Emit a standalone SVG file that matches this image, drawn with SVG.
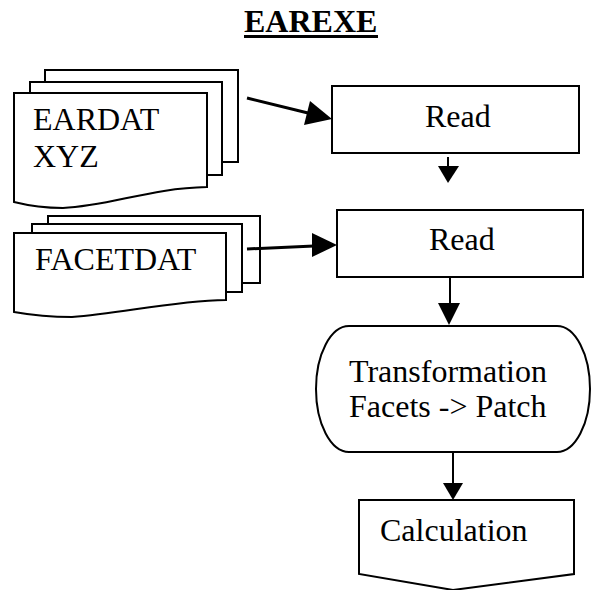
<svg xmlns="http://www.w3.org/2000/svg" width="592" height="590" viewBox="0 0 592 590">
  <style>
    .shape { fill: #ffffff; stroke: #000000; stroke-width: 2; stroke-linejoin: miter; }
    .label { font-family: "Liberation Serif", "Times New Roman", serif; font-size: 32px; fill: #000000; }
    .title { font-family: "Liberation Serif", "Times New Roman", serif; font-size: 32px; font-weight: bold; fill: #000000; }
    .wire { stroke: #000000; stroke-width: 3; fill: none; }
    .wire-thin { stroke: #000000; stroke-width: 2; fill: none; }
    .head { fill: #000000; stroke: none; }
  </style>
  <rect width="592" height="590" fill="#ffffff"/>

  <!-- heading -->
  <g id="title">
    <text class="title" x="244" y="32">EAREXE</text>
    <rect x="244" y="35" width="134" height="3" fill="#000000"/>
  </g>

  <!-- stacked document: EARDAT XYZ -->
  <g id="eardat">
    <rect class="shape" x="45" y="70" width="193" height="92"/>
    <rect class="shape" x="30" y="82" width="192" height="93"/>
    <path class="shape" d="M14,93 L207,93 L207,187 C150,188 110,206 63,208 Q38,208 14,202 Z"/>
    <text class="label" x="33" y="130">EARDAT</text>
    <text class="label" x="33" y="167">XYZ</text>
  </g>

  <!-- stacked document: FACETDAT -->
  <g id="facetdat">
    <rect class="shape" x="48" y="216" width="212" height="67"/>
    <rect class="shape" x="32" y="224" width="210" height="68"/>
    <path class="shape" d="M14,233 L226,233 L226,300 C170,301 120,314 72,317 Q42,317 14,312 Z"/>
    <text class="label" x="35" y="270">FACETDAT</text>
  </g>

  <!-- process boxes -->
  <g id="read1">
    <rect class="shape" x="332" y="86" width="247" height="67"/>
    <text class="label" x="425" y="127">Read</text>
  </g>
  <g id="read2">
    <rect class="shape" x="337" y="210" width="246" height="67"/>
    <text class="label" x="429" y="250">Read</text>
  </g>

  <!-- terminal: transformation -->
  <g id="transformation">
    <rect class="shape" x="316" y="326" width="274" height="126" rx="33" ry="63"/>
    <text class="label" x="349" y="382">Transformation</text>
    <text class="label" x="349" y="417">Facets -&gt; Patch</text>
  </g>

  <!-- off-page connector: calculation -->
  <g id="calculation">
    <path class="shape" d="M359,500 L574,500 L574,574 L453,590 L359,574 Z"/>
    <text class="label" x="380" y="541">Calculation</text>
  </g>

  <!-- connectors -->
  <g id="connectors">
    <line class="wire" x1="247" y1="98" x2="308" y2="113"/>
    <polygon class="head" points="332,119 304,125 310,101"/>

    <line class="wire" x1="247" y1="249" x2="314" y2="246"/>
    <polygon class="head" points="337,245 312,257 312,233"/>

    <line class="wire-thin" x1="448" y1="157" x2="448" y2="168"/>
    <polygon class="head" points="448,183 438,166 459,166"/>

    <line class="wire-thin" x1="450" y1="278" x2="450" y2="305"/>
    <polygon class="head" points="449,325 438,303 460,303"/>

    <line class="wire-thin" x1="453" y1="452" x2="453" y2="485"/>
    <polygon class="head" points="453,500 443,483 463,483"/>
  </g>
</svg>
